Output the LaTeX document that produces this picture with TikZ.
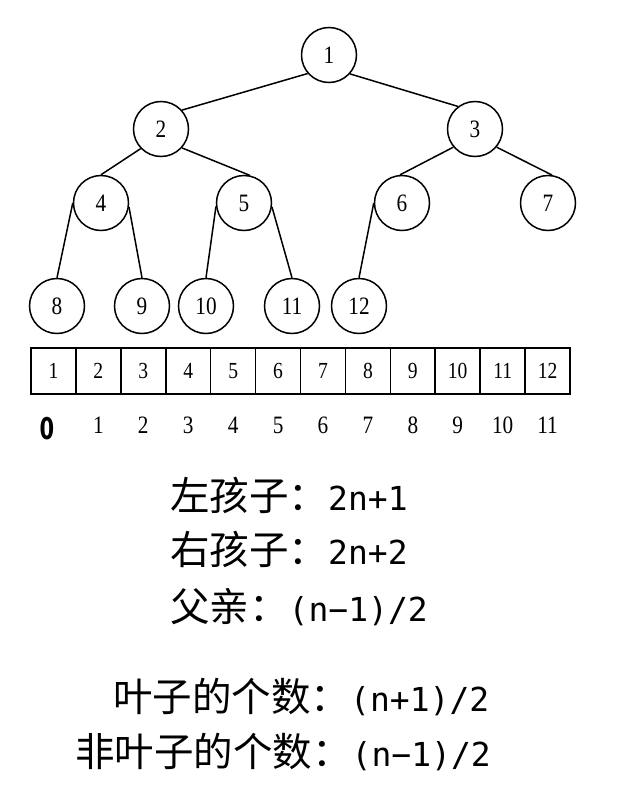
\documentclass[tikz,border=0pt]{standalone}
\usepackage{fontspec}
\setmainfont{Liberation Serif}
\newfontfamily\cjk{Noto Sans CJK SC}
\newfontfamily\latn{DejaVu Sans Mono}
\newfontfamily\numfont[FakeStretch=0.85]{Liberation Serif}
\newfontfamily\zerofont[FakeStretch=0.7]{DejaVu Sans}
\newcommand{\lt}[1]{{\latn\fontsize{33}{33}\selectfont #1}}
\begin{document}
\begin{tikzpicture}[x=1pt,y=-1pt,
  tn/.style={circle,draw,line width=1.5pt,minimum size=55pt,inner sep=0pt,
    font=\numfont\fontsize{25}{25}\selectfont},
  cell/.style={rectangle,draw,line width=1.6pt,minimum width=44.92pt,minimum height=46pt,
    inner sep=0pt,font=\numfont\fontsize{23}{23}\selectfont},
  idx/.style={inner sep=0pt,font=\numfont\fontsize{25}{25}\selectfont},
  link/.style={line width=1.5pt},
  lbl/.style={anchor=base west,inner sep=0pt,font=\cjk\fontsize{39.5}{39.5}\selectfont}]
\useasboundingbox (0,0) rectangle (625,795);

% tree nodes
\node[tn] (n1) at (329,55) {1};
\node[tn] (n2) at (161,129) {2};
\node[tn] (n3) at (475,129) {3};
\node[tn] (n4) at (101,203) {4};
\node[tn] (n5) at (244,203) {5};
\node[tn] (n6) at (402,203) {6};
\node[tn] (n7) at (548,203) {7};
\node[tn] (n8) at (57,306) {8};
\node[tn] (n9) at (142,306) {9};
\node[tn] (n10) at (206,306) {10};
\node[tn] (n11) at (292,306) {11};
\node[tn] (n12) at (359,306) {12};

% edges
\draw[link] (n1.221) -- (n2.42);
\draw[link] (n1.318) -- (n3.127);
\draw[link] (n2.224) -- (n4.90);
\draw[link] (n2.318) -- (n5.78);
\draw[link] (n3.220) -- (n6.94);
\draw[link] (n3.320) -- (n7.82);
\draw[link] (n4.180) -- (n8.90);
\draw[link] (n4.352) -- (n9.90);
\draw[link] (n5.187) -- (n10.90);
\draw[link] (n5.352) -- (n11.90);
\draw[link] (n6.180) -- (n12.90);

% array
\foreach \i in {1,...,12}
  \node[cell] (c\i) at ({31+44.92*(\i-0.5)},371) {\i};

% indices
\node[inner sep=0pt,font=\zerofont\bfseries\fontsize{30}{30}\selectfont] (k0) at (47,429) {0};
\foreach \i [evaluate=\i as \j using int(\i-1)] in {2,...,12}
  \node[idx] (k\j) at ({31+44.92*(\i-0.5)},425) {\j};

% formulas
\node[lbl] (t1) at (170,510) {左孩子：\lt{2n+1}};
\node[lbl] (t2) at (170,564) {右孩子：\lt{2n+2}};
\node[lbl] (t3) at (170,621) {父亲：\lt{(n−1)/2}};
\node[lbl] (t4) at (113,711) {叶子的个数：\lt{(n+1)/2}};
\node[lbl] (t5) at (75,766) {非叶子的个数：\lt{(n−1)/2}};
\end{tikzpicture}
\end{document}
